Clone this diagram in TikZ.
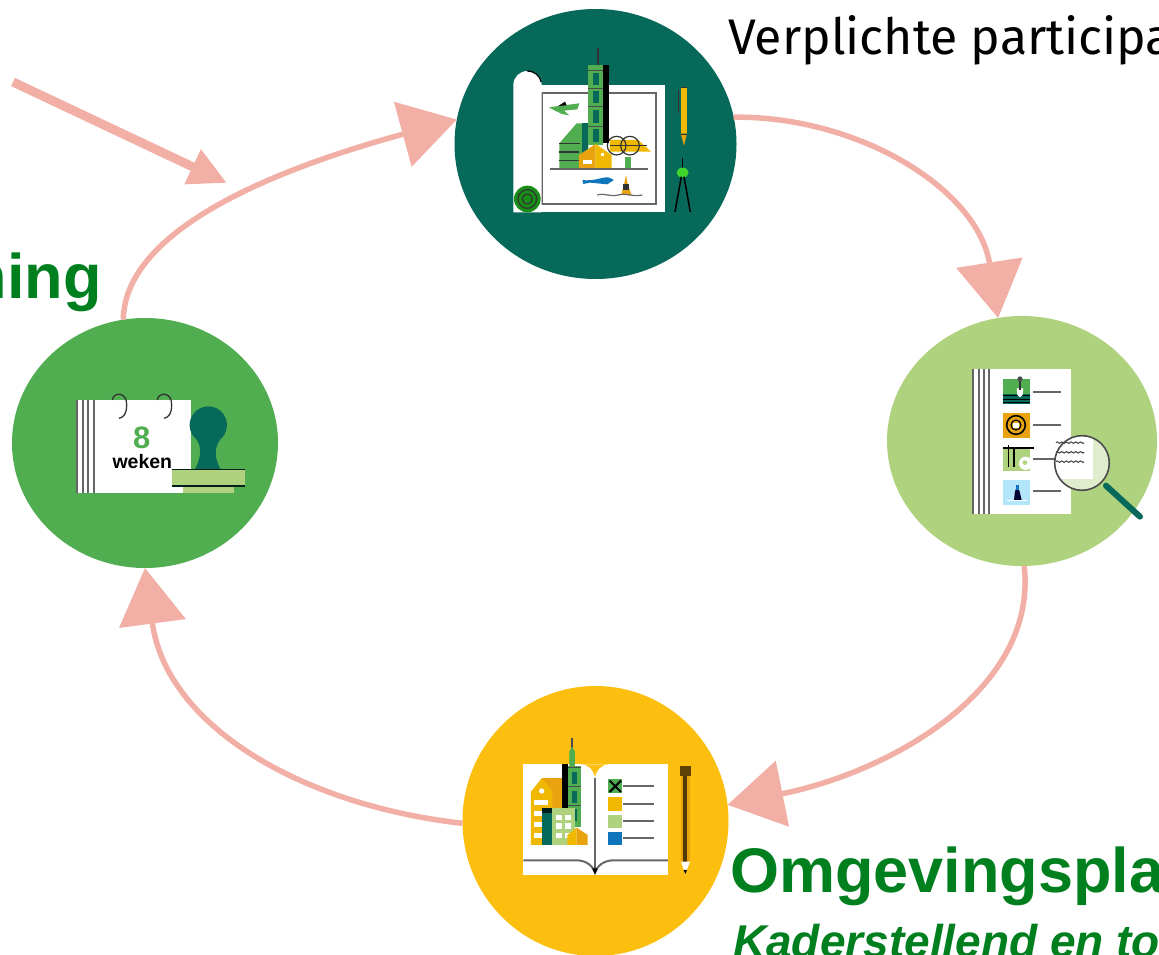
\documentclass[tikz,border=0pt]{standalone}
\usepackage{fontspec}
\setmainfont{Fira Sans}
\newfontfamily\headfont{Liberation Sans}
\usetikzlibrary{shapes.geometric,arrows.meta}
\definecolor{pinkc}{HTML}{F2AFA5}
\definecolor{tealc}{HTML}{06695A}
\definecolor{limec}{HTML}{AFD27F}
\definecolor{midg}{HTML}{50AD50}
\definecolor{yelc}{HTML}{FCBF0F}
\definecolor{orac}{HTML}{E8A30F}
\definecolor{goldc}{HTML}{F0B800}
\definecolor{bluec}{HTML}{0F75BC}
\definecolor{greenc}{HTML}{007F1F}
\definecolor{grayl}{HTML}{666666}
\tikzset{
 stage/.style={ellipse,inner sep=0pt,outer sep=0pt,draw=none},
 cycle arrow/.style={draw=pinkc,line width=5.5pt,-{Triangle[length=56pt,width=66pt,fill=pinkc]}},
 entry arrow/.style={draw=pinkc,line width=9pt,-{Triangle[length=38pt,width=36pt,fill=pinkc]}},
 head/.style={font=\headfont\bfseries\fontsize{63}{66}\selectfont,text=greenc,inner sep=0pt,anchor=base west},
 lbl/.style={font=\fontsize{50}{54}\selectfont,text=black,inner sep=0pt,anchor=base west},
 sub/.style={font=\headfont\bfseries\itshape\fontsize{46}{50}\selectfont,text=greenc,inner sep=0pt,anchor=base west},
 icon/.style={x=0.3333pt,y=-0.3333pt},
 thin gray/.style={draw=grayl,line width=1.8pt},
}
\begin{document}
\begin{tikzpicture}[x=1pt,y=-1pt]
\useasboundingbox (0,0) rectangle (1159,955);
\clip (0,0) rectangle (1159,955);
\fill[white] (0,0) rectangle (1159,955);

% stage discs
\node[stage,fill=tealc,minimum width=282pt,minimum height=270pt] (plan) at (595.5,144) {};
\node[stage,fill=limec,minimum width=270pt,minimum height=250pt] (check) at (1022,441) {};
\node[stage,fill=yelc,minimum width=266pt,minimum height=270pt] (book) at (595.5,821) {};
\node[stage,fill=midg,minimum width=266pt,minimum height=250pt] (cal) at (145,443) {};

% connectors
\draw[cycle arrow] (cal.100) .. controls (125,225) and (290,165) .. (plan.170);
\draw[cycle arrow] (plan.11) .. controls (860,116) and (978,190) .. (check.101);
\draw[cycle arrow] (check.271) .. controls (1038,690) and (890,772) .. (book.7);
\draw[cycle arrow] (book.181) .. controls (300,805) and (166,725) .. (cal.270);
\coordinate (entryA) at (13,82);
\coordinate (entryB) at (227,183);
\draw[entry arrow] (entryA) -- (entryB);

% texts
\node[lbl] (t1) at (728,55) {Verplichte participa};
\node[head,anchor=base east] (t2) at (102,298) {ning};
\node[head] (t3) at (730,892) {Omgevingspla};
\node[sub] (t4) at (733,957) {Kaderstellend en to};

% ---------- plan icon
\begin{scope}[shift={(450,0)},icon]
 \fill[white] (230,255) rectangle (645,637);
 \draw[grayl,line width=2pt] (275,280) rectangle (617,612);
 \fill[white] (190,637) -- (190,255) arc[start angle=180,end angle=360,x radius=42.5,y radius=42] -- (275,637) -- cycle;
 \draw[black,line width=1.2pt] (232,213) arc[start angle=270,end angle=350,x radius=42,y radius=40];
 \fill[green!50!black!70!midg] (232,597) circle[radius=40];
 \draw[black!80,line width=1.2pt] (232,597) circle[radius=28] (232,597) circle[radius=15];
 % plane
 \fill[midg] (297,322) -- (388,310) -- (382,328) -- (342,332) -- (358,346) -- (336,342) -- (315,332) -- cycle;
 \fill[black] (325,318) -- (345,305) -- (350,316) -- cycle;
 % low building
 \fill[midg] (328,430) -- (380,370) -- (415,370) -- (415,505) -- (328,505) -- cycle;
 \fill[tealc] (395,370) rectangle (415,505);
 \draw[black!80,line width=1.4pt] (328,430) -- (390,430) (328,456) -- (388,456) (328,482) -- (388,482);
 % pipes
 \fill[goldc] (480,420) -- (565,420) -- (603,455) -- (480,455) -- cycle;
 \draw[black!80,line width=1.2pt] (500,437) circle[radius=28] (540,437) circle[radius=28];
 \draw[black!80,line width=1pt] (480,437) -- (590,437);
 \fill[midg] (525,470) rectangle (542,505);
 % tower
 \draw[black!80,line width=2pt] (445,145) -- (445,195);
 \fill[midg] (415,195) rectangle (458,435);
 \fill[black] (458,195) rectangle (478,430);
 \foreach \w in {218,272,330,388} \fill[tealc] (428,\w) rectangle (446,\w+38);
 \foreach \w in {212,264,320,378} \draw[black!70,line width=.9pt] (415,\w) -- (458,\w);
 % house
 \fill[orac] (387,505) -- (387,465) -- (437,432) -- (437,505) -- cycle;
 \fill[goldc] (437,432) -- (485,465) -- (485,505) -- (437,505) -- cycle;
 \fill[white] (400,480) rectangle (425,492);
 \fill[white] (452,458) rectangle (462,468);
 \draw[grayl,line width=2.4pt] (300,507) -- (595,507);
 % fish
 \fill[bluec] (397,540) .. controls (430,545) and (460,530) .. (475,532) -- (492,540) -- (472,553) -- (420,548) -- (400,552) -- cycle;
 % buoy
 \fill[orac] (513,585) -- (522,555) -- (528,525) -- (534,555) -- (545,585) -- cycle;
 \fill[black!80] (520,552) rectangle (538,570);
 \draw[grayl,line width=1.2pt] (442,585) .. controls (465,578) and (480,592) .. (505,585) .. controls (530,578) and (550,592) .. (577,585);
 % pen and compass
 \fill[goldc] (692,265) rectangle (711,400);
 \fill[orac] (692,400) -- (711,400) -- (702,437) -- cycle;
 \draw[black!80,line width=1.3pt] (686,270) -- (686,338) (692,263) -- (711,263) (692,403) -- (711,403);
 \draw[black,line width=1.5pt] (698,475) -- (698,508);
 \fill[green!60!limec!90!black] (698,518) ellipse[x radius=18,y radius=15];
 \draw[black,line width=1.5pt] (694,530) -- (675,636) (702,530) -- (721,636);
\end{scope}

% ---------- checklist icon
\begin{scope}[shift={(880,310)},icon]
 \fill[white] (276,176) rectangle (574,612);
 \foreach \s in {278,298,313,327} \draw[grayl,line width=1.9pt] (\s,176) -- (\s,612);
 \foreach \s in {245,346,544} \draw[thin gray] (460,\s) -- (543,\s);
 \fill[midg] (368,208) rectangle (450,283);
 \fill[tealc] (368,252) rectangle (450,283);
 \foreach \s in {258,268,278} \draw[black,line width=1pt] (368,\s) -- (450,\s);
 \fill[white] (410,235) -- (430,235) -- (428,255) -- (420,262) -- (412,255) -- cycle;
 \draw[black!80,line width=1.3pt] (420,205) -- (420,240);
 \fill[black!70] (420,207) circle[radius=8];
 \fill[orac] (368,308) rectangle (450,383);
 \draw[black,line width=1.6pt] (408,345) circle[radius=28];
 \draw[black,line width=1.2pt] (408,345) circle[radius=15];
 \fill[white] (400,340) rectangle (416,353);
 \fill[limec] (368,410) rectangle (450,484);
 \draw[black,line width=1.6pt] (368,414) -- (462,414) (385,405) -- (385,470) (402,414) -- (402,470);
 \fill[white] (437,460) circle[radius=20];
 \fill[limec] (435,458) circle[radius=7];
 \fill[cyan!30!white] (368,510) rectangle (450,584);
 \fill[black!80!blue] (402,570) -- (405,545) -- (412,525) -- (419,545) -- (425,570) -- cycle;
 \fill[bluec] (408,525) rectangle (417,540);
 \draw[white,line width=.8pt] (380,572) -- (440,572);
 % magnifier
 \draw[tealc,line width=6pt,line cap=round] (678,527) -- (780,620);
 \begin{scope}
  \clip (606,459) circle[radius=82];
  \fill[limec!40!white] (500,370) rectangle (700,550);
  \fill[white] (500,370) rectangle (638,508);
 \end{scope}
 \draw[thin gray] (460,447) -- (524,447);
 \foreach \s in {398,427,455}
  \draw[black!75,line width=1pt] (528,\s) \foreach \k in {0,1,2,3,4,5} { .. controls +(4,-8) and +(-4,8) .. +(14,0) ++(14,0)};
 \draw[black!70,line width=1.6pt] (606,459) circle[radius=82];
\end{scope}

% ---------- book icon
\begin{scope}[shift={(460,680)},icon]
 \fill[white] (190,253) rectangle (624,585);
 \fill[yelc] (362,253) .. controls (390,255) and (400,270) .. (405,292) .. controls (410,270) and (420,255) .. (448,253) -- cycle;
 \draw[grayl,line width=2pt] (405,295) -- (405,578);
 \draw[grayl,line width=2pt] (190,541) -- (350,541) .. controls (380,541) and (400,560) .. (405,578) .. controls (410,560) and (430,541) .. (460,541) -- (624,541);
 \fill[black] (397,565) -- (413,565) -- (405,584) -- cycle;
 % buildings
 \draw[black!70,line width=1.8pt] (336,175) -- (336,205);
 \fill[midg] (336,200) -- (345,215) -- (345,258) -- (328,258) -- (328,215) -- cycle;
 \fill[midg] (325,258) rectangle (362,440);
 \foreach \w in {275,332,388} \fill[tealc] (335,\w) rectangle (352,\w+36);
 \foreach \w in {262,320,375} \draw[black!70,line width=.9pt] (325,\w) -- (362,\w);
 \fill[black] (305,253) rectangle (325,385);
 \fill[orac] (245,295) -- (305,295) -- (305,495) -- (245,495) -- cycle;
 \fill[goldc] (213,495) -- (213,335) -- (245,295) -- (277,335) -- (277,495) -- cycle;
 \fill[white] (245,333) circle[radius=8];
 \fill[white] (222,360) rectangle (265,375);
 \foreach \w in {392,425,458} \fill[white] (222,\w) rectangle (245,\w+16);
 \fill[tealc] (245,385) rectangle (277,495);
 \fill[black!70!tealc] (245,385) rectangle (277,400);
 \fill[limec] (277,385) rectangle (345,495);
 \foreach \wx in {288,315} \foreach \wy in {405,430,458} \fill[white] (\wx,\wy) rectangle (\wx+18,\wy+16);
 \fill[goldc] (322,495) -- (322,465) -- (350,443) -- (350,495) -- cycle;
 \fill[orac] (350,443) -- (383,465) -- (383,495) -- (350,495) -- cycle;
 % list
 \fill[midg] (445,298) rectangle (487,340);
 \draw[black,line width=2pt] (449,302) -- (483,336) (483,302) -- (449,336);
 \fill[goldc] (445,352) rectangle (487,392);
 \fill[limec] (445,405) rectangle (487,445);
 \fill[bluec] (445,455) rectangle (487,495);
 \foreach \s in {319,371,424,474} \draw[thin gray] (490,\s) -- (583,\s);
 % pencil
 \fill[orac] (662,285) rectangle (690,545);
 \fill[black!50!orac!70!black] (670,285) rectangle (680,545);
 \fill[black!60!orac] (660,258) rectangle (692,288);
 \fill[white] (663,545) -- (690,545) -- (676,582) -- cycle;
 \fill[black] (671,570) -- (681,570) -- (676,582) -- cycle;
\end{scope}

% ---------- calendar icon
\begin{scope}[shift={(0,310)},icon]
 \fill[white] (230,270) rectangle (574,549);
 \foreach \s in {232,248,265,283} \draw[grayl,line width=1.9pt] (\s,270) -- (\s,549);
 \foreach \r in {0,135} {
  \draw[black!80,line width=1.3pt] (337+\r,270) .. controls (340+\r,245) and (382+\r,245) .. (380+\r,285) .. controls (380+\r,310) and (372+\r,322) .. (357+\r,325);
 }
 \node[font=\headfont\bfseries\fontsize{31}{31}\selectfont,text=midg,inner sep=0pt] (eight) at (425,384) {8};
 \node[font=\headfont\bfseries\fontsize{19.5}{19.5}\selectfont,text=black,inner sep=0pt] (weken) at (427,454) {weken};
 \fill[tealc] (585,478) .. controls (605,440) and (605,410) .. (589,388) arc[start angle=130,end angle=410,radius=56] .. controls (645,410) and (640,440) .. (662,478) -- cycle;
 \fill[limec] (548,530) rectangle (702,549);
 \fill[limec] (515,478) rectangle (736,528);
 \draw[black!70!tealc,line width=1.3pt] (515,478) -- (736,478) (515,528) -- (736,528);
\end{scope}
\end{tikzpicture}
\end{document}
